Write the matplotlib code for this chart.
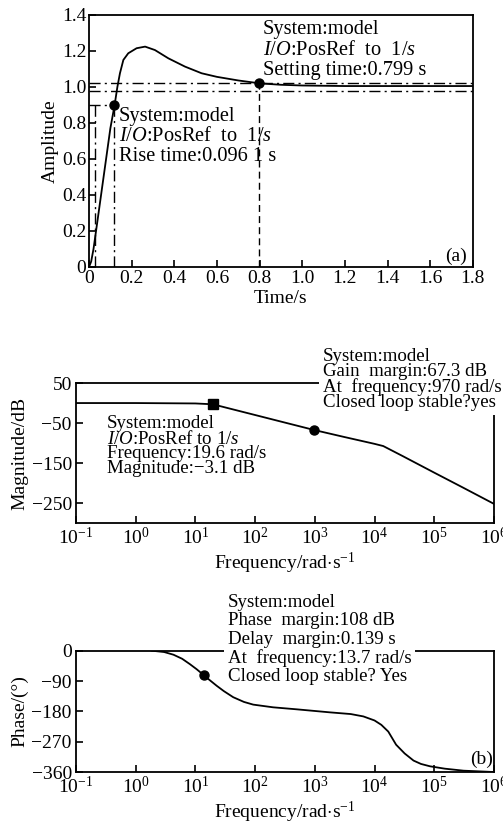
import numpy as np
import matplotlib
matplotlib.use('Agg')
import matplotlib.pyplot as plt

plt.rcParams['font.family'] = ['Liberation Serif', 'DejaVu Serif']
plt.rcParams['mathtext.fontset'] = 'custom'
plt.rcParams['mathtext.rm'] = 'Liberation Serif'
plt.rcParams['mathtext.it'] = 'Liberation Serif:italic'
plt.rcParams['mathtext.bf'] = 'Liberation Serif:bold'
plt.rcParams['xtick.direction'] = 'in'
plt.rcParams['ytick.direction'] = 'in'

# ---- step response (a)
t_step = [0, 0.01, 0.021, 0.04, 0.06, 0.08, 0.1, 0.12, 0.133, 0.145, 0.161, 0.184,
          0.223, 0.263, 0.309, 0.372, 0.45, 0.528, 0.6, 0.7, 0.8, 0.9, 1.0, 1.2,
          1.5, 1.8]
y_step = [0, 0.03, 0.1, 0.26, 0.43, 0.6, 0.77, 0.9, 1.0, 1.076, 1.15, 1.187,
          1.215, 1.224, 1.205, 1.159, 1.113, 1.076, 1.056, 1.036, 1.02, 1.012, 1.008,
          1.005, 1.005, 1.005]
t_rise = [0.027, 0.118]   # 10% / 90% marks
y_rise = 0.9
t_settle, y_settle = 0.799, 1.02
band = [1.02, 0.98]

# ---- bode magnitude
f_mag = [0.1, 1, 10, 19.6, 100, 300, 970, 3000, 1e4, 1.4e4, 3e4, 1e5, 3e5, 1e6]
mag = [0, 0, -1, -3.1, -29.9, -48, -67.3, -84.3, -102, -107.5, -133, -174, -211, -252]
f_gm, m_gm = 970, -67.3
f_bw, m_bw = 19.6, -3.1

# ---- bode phase
f_ph = [1.85, 3, 4.3, 6, 8.1, 10.5, 13.7, 17, 22.7, 30, 43, 65, 93, 200, 500,
        1800, 4000, 6500, 1e4, 1.3e4, 1.7e4, 2.3e4, 3.2e4, 4.5e4, 6e4, 8.5e4,
        1.5e5, 3.1e5, 7.6e5, 1e6]
phase = [0, -4, -12, -24, -40, -55, -72, -86, -104, -120, -138, -152, -160, -168, -174,
         -183, -188, -195, -207, -220, -240, -279, -305, -326, -336, -343,
         -350, -356, -359, -360]
f_pm, p_pm = 13.7, -72

fig = plt.figure(figsize=(5.03, 8.25), dpi=100)
dd = (8, 3, 1.5, 3)

# (a)
ax1 = fig.add_axes([0.177, 0.6764, 0.763, 0.3055])
ax1.plot(t_step, y_step, color='black', lw=1.3)
for b in band:
    ax1.axhline(b, color='black', lw=1.0, ls='-.', dashes=dd)
ax1.plot([0, t_rise[1]], [y_rise, y_rise], color='black', lw=1.0, ls='-.', dashes=dd)
for tr in t_rise:
    ax1.plot([tr, tr], [0, y_rise], color='black', lw=1.0, ls='-.', dashes=dd)
ax1.plot([t_settle, t_settle], [0, y_settle], color='black', lw=1.0, ls='--', dashes=(5, 3))
ax1.plot([t_rise[1]], [y_rise], 'o', color='black', ms=6.5)
ax1.plot([t_settle], [y_settle], 'o', color='black', ms=6.5)
ax1.set_xlim(0, 1.8)
ax1.set_ylim(0, 1.4)
ax1.set_xticks(np.arange(0, 1.81, 0.2))
ax1.set_xticklabels(['0', '0.2', '0.4', '0.6', '0.8', '1.0', '1.2', '1.4', '1.6', '1.8'])
ax1.set_yticks(np.arange(0, 1.41, 0.2))
ax1.set_yticklabels(['0', '0.2', '0.4', '0.6', '0.8', '1.0', '1.2', '1.4'])
ax1.tick_params(labelsize=14, length=5, width=1.2, pad=2)
ax1.set_xlabel('Time/s', fontsize=14, labelpad=2)
ax1.set_ylabel('Amplitude', fontsize=14, labelpad=2)
ax1.text(0.816, 1.37, 'System:model\n$\\mathit{I/O}$:PosRef  to  1/$\\mathit{s}$\nSetting time:0.799 s',
         fontsize=14.7, va='top', ha='left', linespacing=1.09)
ax1.text(0.141, 0.89, 'System:model\n$\\mathit{I/O}$:PosRef  to  1/$\\mathit{s}$\nRise time:0.096 1 s',
         fontsize=14.7, va='top', ha='left', linespacing=1.09)
ax1.text(1.72, 0.06, '(a)', fontsize=14, ha='center', va='center')

# (b) magnitude
ax2 = fig.add_axes([0.151, 0.366, 0.831, 0.1697])
ax2.semilogx(f_mag, mag, color='black', lw=1.3)
ax2.plot([f_bw], [m_bw], 's', color='black', ms=6.5)
ax2.plot([f_gm], [m_gm], 'o', color='black', ms=6.5)
ax2.set_xlim(0.1, 1e6)
ax2.set_ylim(-300, 50)
ax2.set_yticks([50, -50, -150, -250])
ax2.minorticks_off()
ax2.tick_params(labelsize=14, length=5, width=1.2, pad=3)
ax2.set_xlabel('Frequency/rad$\\cdot$s$^{-1}$', fontsize=14, labelpad=2)
ax2.set_ylabel('Magnitude/dB', fontsize=14, labelpad=2)
ax2.text(0.327, -30, 'System:model\n$\\mathit{I/O}$:PosRef to 1/$\\mathit{s}$\nFrequency:19.6 rad/s\nMagnitude:\u22123.1 dB',
         fontsize=13.6, va='top', ha='left', linespacing=0.82)
ax2.text(1370, 138, 'System:model\nGain  margin:67.3 dB\nAt  frequency:970 rad/s\nClosed loop stable?yes',
         fontsize=13.6, va='top', ha='left', linespacing=0.86, clip_on=False, zorder=5,
         bbox=dict(facecolor='white', edgecolor='none', pad=3))

# (b) phase
ax3 = fig.add_axes([0.151, 0.0642, 0.831, 0.1471])
ax3.semilogx(f_ph, phase, color='black', lw=1.3)
ax3.plot([f_pm], [p_pm], 'o', color='black', ms=6.5)
ax3.set_xlim(0.1, 1e6)
ax3.set_ylim(-360, 0)
ax3.set_yticks([0, -90, -180, -270, -360])
ax3.minorticks_off()
ax3.tick_params(labelsize=14, length=5, width=1.2, pad=3)
ax3.set_xlabel('Frequency/rad$\\cdot$s$^{-1}$', fontsize=14, labelpad=2)
ax3.set_ylabel('Phase/(\u00b0)', fontsize=14, labelpad=2)
ax3.text(34.8, 168, 'System:model\nPhase  margin:108 dB\nDelay  margin:0.139 s\nAt  frequency:13.7 rad/s\nClosed loop stable? Yes',
         fontsize=13.6, va='top', ha='left', linespacing=1.1, clip_on=False, zorder=5,
         bbox=dict(facecolor='white', edgecolor='none', pad=3))
ax3.text(6.3e5, -323, '(b)', fontsize=14, ha='center', va='center')

for ax in (ax1, ax2, ax3):
    for s in ax.spines.values():
        s.set_linewidth(1.3)

fig.savefig('out.png', dpi=100)
